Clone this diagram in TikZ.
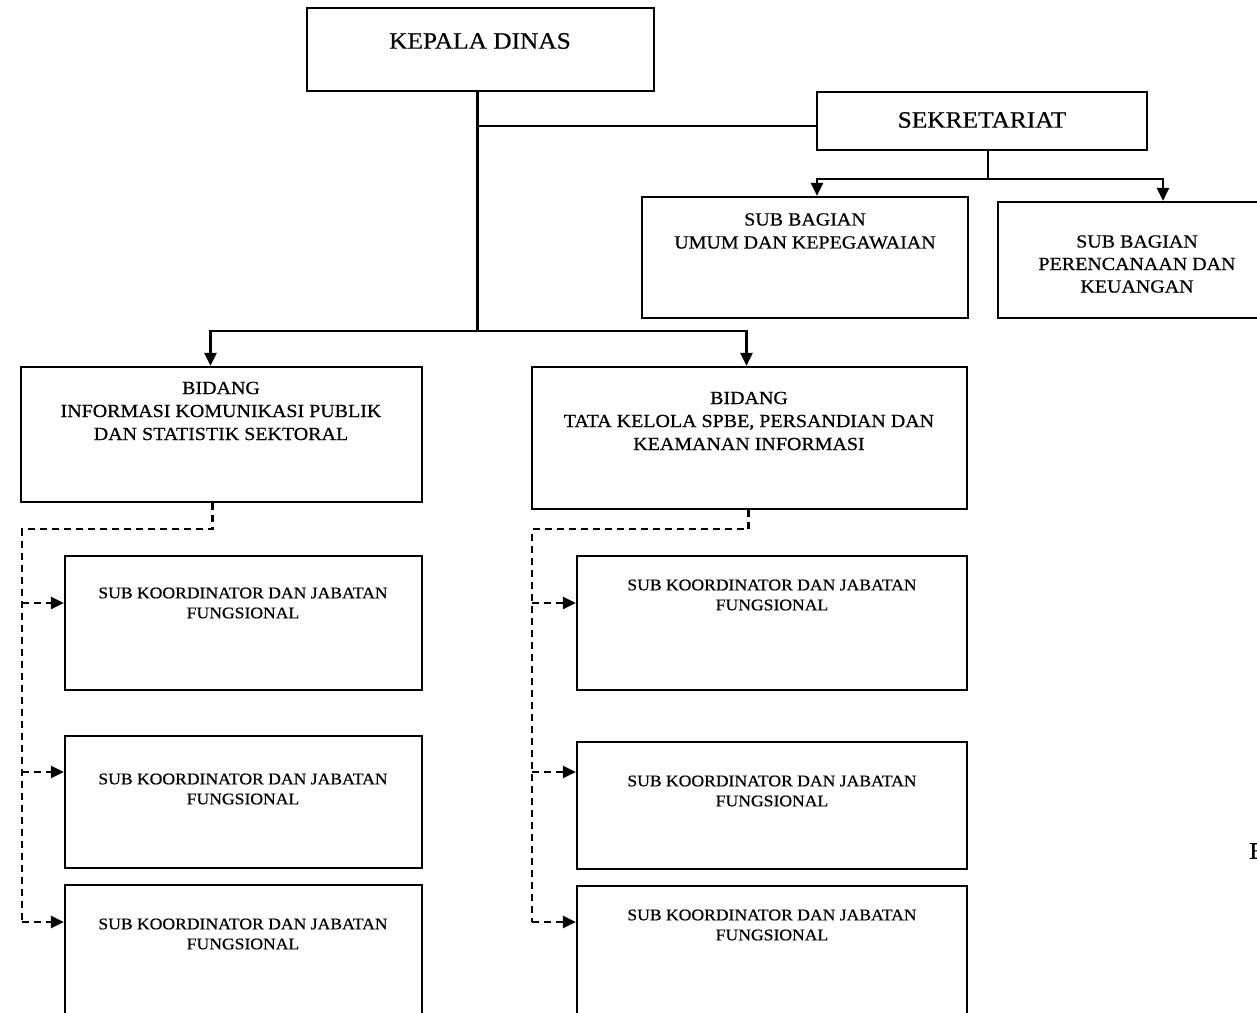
\documentclass[tikz,border=0pt]{standalone}
\usepackage{fontspec}
\setmainfont{Liberation Serif}[FakeStretch=1.08, FakeBold=0.6]
\usetikzlibrary{arrows.meta,fit}
\begin{document}
\begin{tikzpicture}[x=1pt,y=-1pt,
  unit/.style={draw, line width=2.2pt, rectangle, inner sep=0pt},
  caption/.style={align=center, inner sep=0pt},
  link/.style={line width=2.4pt},
  tip/.style={-{Triangle[length=13pt,width=12pt]}},
  dotlink/.style={line width=2.4pt, dash pattern=on 7pt off 5pt},
  big/.style={font=\fontsize{23.5}{26}\selectfont},
  mid/.style={font=\fontsize{18.5}{23}\selectfont},
  small/.style={font=\fontsize{16.3}{20}\selectfont}]
\useasboundingbox (0,0) rectangle (1257,1012);
\clip (0,0) rectangle (1257,1012);

% head of office
\node[unit, fit={(307,8)(654,91)}] (kd) {};
\node[caption, big] (kdt) at (480,41) {KEPALA DINAS};

% secretariat and its sub-sections
\node[unit, fit={(817,92)(1147,150)}] (sek) {};
\node[caption, big] (sekt) at (982,120) {SEKRETARIAT};
\node[unit, fit={(642,197)(968,318)}] (ua) {};
\node[caption, mid] (uat) at (805,231) {SUB BAGIAN\\UMUM DAN KEPEGAWAIAN};
\node[unit, fit={(998,202)(1270,318)}] (pk) {};
\node[caption, mid, font=\fontsize{18.5}{22.5}\selectfont] (pkt) at (1137,264) {SUB BAGIAN\\PERENCANAAN DAN\\KEUANGAN};

% divisions
\node[unit, fit={(21,367)(422,502)}] (bl) {};
\node[caption, mid] (blt) at (221,411) {BIDANG\\INFORMASI KOMUNIKASI PUBLIK\\DAN STATISTIK SEKTORAL};
\node[unit, fit={(532,367)(967,509)}] (br) {};
\node[caption, mid] (brt) at (749,421) {BIDANG\\TATA KELOLA SPBE, PERSANDIAN DAN\\KEAMANAN INFORMASI};

% functional groups, left column
\node[unit, fit={(65,556)(422,690)}] (l1) {};
\node[unit, fit={(65,736)(422,868)}] (l2) {};
\node[unit, fit={(65,885)(422,1040)}] (l3) {};
\node[caption, small] (l1t) at (243,603) {SUB KOORDINATOR DAN JABATAN\\FUNGSIONAL};
\node[caption, small] (l2t) at (243,789) {SUB KOORDINATOR DAN JABATAN\\FUNGSIONAL};
\node[caption, small] (l3t) at (243,934) {SUB KOORDINATOR DAN JABATAN\\FUNGSIONAL};

% functional groups, right column
\node[unit, fit={(577,556)(967,690)}] (r1) {};
\node[unit, fit={(577,742)(967,869)}] (r2) {};
\node[unit, fit={(577,886)(967,1040)}] (r3) {};
\node[caption, small] (r1t) at (772,595) {SUB KOORDINATOR DAN JABATAN\\FUNGSIONAL};
\node[caption, small] (r2t) at (772,791) {SUB KOORDINATOR DAN JABATAN\\FUNGSIONAL};
\node[caption, small] (r3t) at (772,925) {SUB KOORDINATOR DAN JABATAN\\FUNGSIONAL};

% partial letter at the right edge
\node[anchor=west, inner sep=0pt, font=\fontsize{24}{24}\selectfont] (edge) at (1249,851) {E};

% solid lines of command
\draw[link] ([xshift=-3]kd.south) -- ++(0,239) coordinate (trunk);
\draw[link] ([xshift=-3]kd.south |- 0,126) -- (sek.west |- 0,126);
\draw[link, tip] (trunk) -| ([xshift=-11]bl.north);
\draw[link, tip] (trunk) -| ([xshift=-3]br.north);
\draw[link] ([xshift=6]sek.south) -- ++(0,28) coordinate (sjoin);
\draw[link, tip] (sjoin) -| ([xshift=12]ua.north);
\draw[link, tip] (sjoin) -| (1163,0 |- pk.north);

% dashed coordination lines, left
\draw[dotlink] ([xshift=-9]bl.south) -- ++(0,26) -| (22,922) coordinate (lend);
\draw[dotlink, tip] (22,603) -- (l1.west |- 0,603);
\draw[dotlink, tip] (22,772) -- (l2.west |- 0,772);
\draw[dotlink, tip] (lend) -- (l3.west |- lend);

% dashed coordination lines, right
\draw[dotlink] ([xshift=-1]br.south) -- ++(0,19) -| (532,922) coordinate (rend);
\draw[dotlink, tip] (532,603) -- (r1.west |- 0,603);
\draw[dotlink, tip] (532,772) -- (r2.west |- 0,772);
\draw[dotlink, tip] (rend) -- (r3.west |- rend);
\end{tikzpicture}
\end{document}
